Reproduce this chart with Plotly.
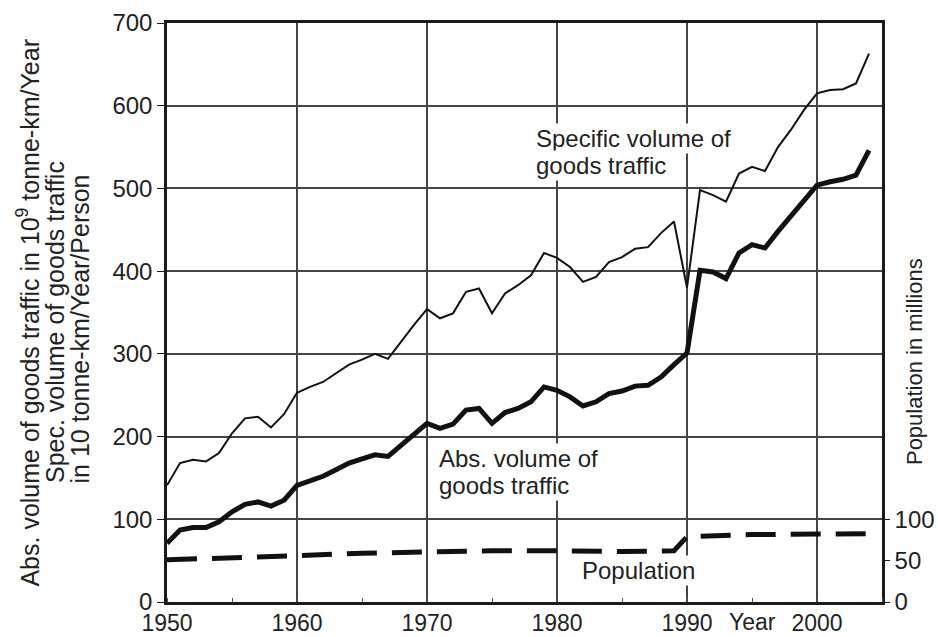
import plotly.graph_objects as go

years = list(range(1950, 2005))

specific_volume = [141, 168, 172, 170, 180, 204, 222, 224, 211, 227,
                   253, 260, 266, 276, 287, 293, 300, 294, 315, 335,
                   354, 343, 349, 375, 379, 349, 373, 383, 395, 422,
                   416, 405, 387, 393, 411, 417, 427, 429, 446, 460,
                   380, 498, 492, 484, 518, 526, 521, 550, 571, 595,
                   615, 619, 620, 627, 663]

abs_volume = [71, 87, 90, 90, 97, 109, 118, 121, 116, 123,
              141, 147, 152, 160, 168, 173, 178, 176, 190, 204,
              216, 210, 215, 232, 234, 216, 229, 234, 242, 260,
              256, 248, 237, 242, 252, 255, 261, 262, 272, 287,
              301, 401, 399, 391, 422, 432, 428, 448, 466, 486,
              504, 508, 511, 516, 546]

pop_years = [1950, 1955, 1960, 1965, 1970, 1975, 1980, 1985, 1989, 1990, 1995, 2000, 2004]
population = [51, 53, 56, 59, 61, 62, 62, 61, 62, 79, 81.5, 82, 82.5]

x_ticks = [1950, 1960, 1970, 1980, 1990, 2000]
y_ticks = [0, 100, 200, 300, 400, 500, 600, 700]
y2_ticks = [0, 50, 100]

FONT = "Liberation Sans, Arial, sans-serif"
TXT = "#222222"
GRID = "#444444"

fig = go.Figure()
fig.add_trace(go.Scatter(x=years, y=specific_volume, mode="lines",
                         line=dict(color="#111111", width=2), showlegend=False))
fig.add_trace(go.Scatter(x=years, y=abs_volume, mode="lines",
                         line=dict(color="#111111", width=5), showlegend=False))
fig.add_trace(go.Scatter(x=pop_years, y=population, mode="lines", yaxis="y2",
                         line=dict(color="#111111", width=5, dash="30px,15px"),
                         showlegend=False))

ann_font = dict(family=FONT, size=24, color=TXT)
annotations = []

def label(text, x, y, xanchor="left"):
    annotations.append(dict(text=text, x=x, y=y, xref="x", yref="y",
                            xanchor=xanchor, yanchor="middle", showarrow=False,
                            font=ann_font, bgcolor="white", borderpad=1))

label("Specific volume of", 1978.25, 560)
label("goods traffic", 1978.25, 528)
label("Abs. volume of", 1970.77, 173)
label("goods traffic", 1970.77, 141)
label("Population", 1981.8, 38.5)

annotations.append(dict(text="Year", x=1995.05, y=-0.034, xref="x", yref="paper",
                        xanchor="center", yanchor="middle", showarrow=False,
                        font=dict(family=FONT, size=23, color=TXT)))

title_font = dict(family=FONT, size=25, color=TXT)
for text, px, py in [
    ("Abs. volume of goods traffic in 10<sup>9</sup> tonne-km/Year", -0.1937, 0.499),
    ("Spec. volume of goods traffic", -0.1566, 0.4836),
    ("in 10 tonne-km/Year/Person", -0.1217, 0.4724),
]:
    annotations.append(dict(text=text, x=px, y=py, xref="paper", yref="paper",
                            xanchor="center", yanchor="middle", textangle=-90,
                            showarrow=False, font=title_font))

annotations.append(dict(text="Population in millions", x=1.0448, y=0.4145,
                        xref="paper", yref="paper", xanchor="center", yanchor="middle",
                        textangle=-90, showarrow=False,
                        font=dict(family=FONT, size=22, color=TXT)))

fig.update_layout(
    width=938, height=637,
    margin=dict(l=167, r=56, t=23, b=35),
    paper_bgcolor="white", plot_bgcolor="white",
    font=dict(family=FONT, size=24, color=TXT),
    annotations=annotations,
    xaxis=dict(range=[1950, 2005], tickvals=x_ticks, showgrid=True,
               gridcolor=GRID, gridwidth=1.8, showline=True, linecolor="#1a1a1a",
               linewidth=2.5, mirror=True, ticks="", zeroline=False,
               ticklabelstandoff=-1,
               tickfont=dict(family=FONT, size=23, color=TXT), automargin=False,
               minor=dict(dtick=5, tick0=1950, ticks="inside", ticklen=4,
                          tickcolor="#555555", showgrid=False)),
    yaxis=dict(range=[0, 700], tickvals=y_ticks, showgrid=True,
               gridcolor=GRID, gridwidth=1.8, showline=True, linecolor="#1a1a1a",
               linewidth=2.5, mirror=True, ticks="outside", ticklen=7,
               tickcolor="#1a1a1a", zeroline=False,
               tickfont=dict(family=FONT, size=24, color=TXT), automargin=False),
    yaxis2=dict(range=[0, 700], tickvals=y2_ticks, overlaying="y", side="right",
                showgrid=False, showline=True, linecolor="#1a1a1a", linewidth=2.5,
                ticks="outside", ticklen=5, tickcolor="#1a1a1a", zeroline=False,
                tickfont=dict(family=FONT, size=24, color=TXT), automargin=False),
)

fig.write_html("out.html")
